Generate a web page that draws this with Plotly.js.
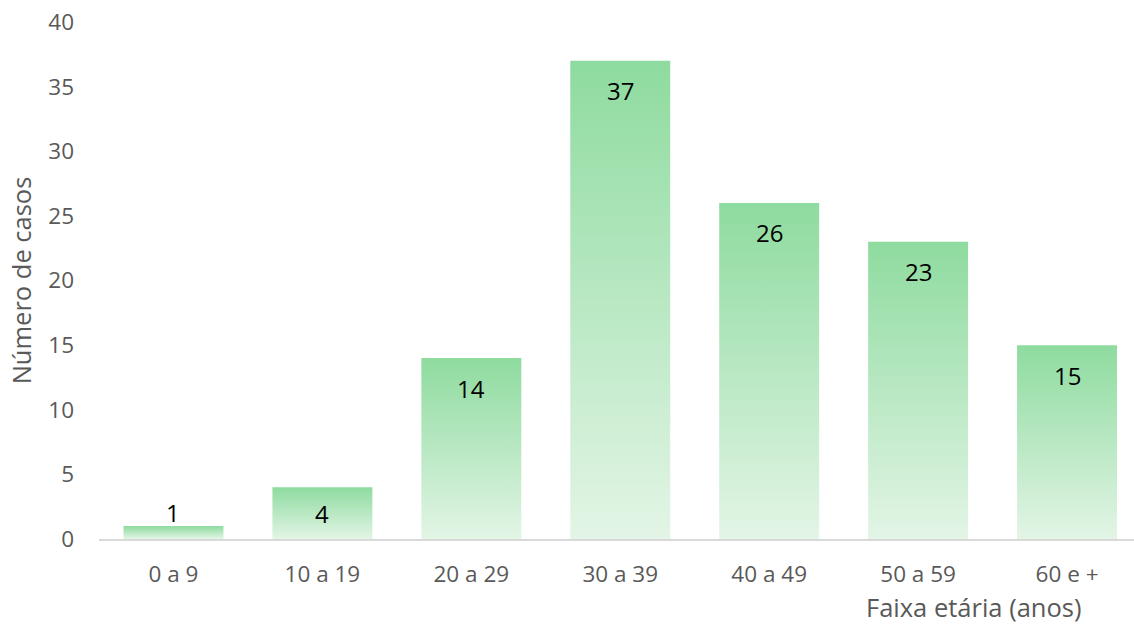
<!DOCTYPE html>
<html>
<head>
<meta charset="utf-8">
<script src="https://cdn.plot.ly/plotly-3.0.1.min.js"></script>
<style>
  html, body { margin: 0; padding: 0; background: #ffffff; }
  #chart { width: 1134px; height: 625px; }
</style>
</head>
<body>
<div id="chart"></div>
<script>
// ---- data ----
const categories = ["0 a 9", "10 a 19", "20 a 29", "30 a 39", "40 a 49", "50 a 59", "60 e +"];
const casos = [1, 4, 14, 37, 26, 23, 15];
const yTickValues = [0, 5, 10, 15, 20, 25, 30, 35, 40];
const yTitle = "Número de casos";
const xTitle = "Faixa etária (anos)";

// ---- style ----
const FONT = "'Open Sans', 'Noto Sans', sans-serif";
const GRAY = "#595959";
const W = 1134, H = 625;
const M = { l: 98.5, r: 0, t: 22, b: 86 };
const Y_MAX = 40;
const plotH = H - M.t - M.b;
const pxPerUnit = plotH / Y_MAX;
const catWidthPx = 149;
const xMax = (W - M.l - M.r) / catWidthPx - 0.5;

// data labels as annotations, placed like Excel "inside end"
const labelAnnotations = casos.map((v, i) => {
  const hPx = v * pxPerUnit;
  let y = v, yshift = 0;
  if (hPx < 30) { yshift = 14; }            // outside, above short bar
  else if (hPx < 70) { y = v / 2; }          // centred in short bar
  else { yshift = -30; }                     // near the top inside
  return {
    x: categories[i], y: y, xref: "x", yref: "y",
    text: String(v), showarrow: false,
    yanchor: "middle", xanchor: "center", yshift: yshift,
    font: { family: FONT, size: 24, color: "#000000" }
  };
});

const trace = {
  type: "bar",
  x: categories,
  y: casos,
  marker: { color: "#b3e6be", line: { width: 0 } },
  hoverinfo: "x+y",
  cliponaxis: false
};

const layout = {
  width: W, height: H,
  margin: M,
  paper_bgcolor: "#ffffff",
  plot_bgcolor: "#ffffff",
  showlegend: false,
  bargap: 1 - 100 / 149,
  font: { family: FONT, color: GRAY, size: 22 },
  xaxis: {
    type: "category",
    range: [-0.5, xMax],
    showgrid: false,
    zeroline: false,
    showline: true,
    linecolor: "#d9d9d9",
    linewidth: 1.5,
    ticks: "",
    ticklabelstandoff: 14,
    tickfont: { family: FONT, size: 22.5, color: GRAY },
    fixedrange: true
  },
  yaxis: {
    range: [0, Y_MAX],
    tickvals: yTickValues,
    showgrid: false,
    zeroline: false,
    showline: false,
    ticks: "",
    ticklabelstandoff: 24,
    tickfont: { family: FONT, size: 22.5, color: GRAY },
    title: { text: yTitle, font: { family: FONT, size: 25.5, color: GRAY }, standoff: 9 },
    automargin: false,
    fixedrange: true
  },
  annotations: labelAnnotations.concat([{
    xref: "paper", yref: "paper",
    x: (973 - M.l) / (W - M.l - M.r),
    y: -(607 - (H - M.b)) / plotH,
    xanchor: "center", yanchor: "middle",
    borderpad: 0,
    text: xTitle, showarrow: false,
    font: { family: FONT, size: 25.5, color: GRAY }
  }])
};

function applyGradient(gd) {
  const svg = gd.querySelector(".main-svg");
  if (!svg) return;
  const NS = "http://www.w3.org/2000/svg";
  let defs = svg.querySelector("defs");
  if (!defs) { defs = document.createElementNS(NS, "defs"); svg.insertBefore(defs, svg.firstChild); }
  if (!svg.querySelector("#barGrad")) {
    const lg = document.createElementNS(NS, "linearGradient");
    lg.setAttribute("id", "barGrad");
    lg.setAttribute("x1", "0"); lg.setAttribute("y1", "0");
    lg.setAttribute("x2", "0"); lg.setAttribute("y2", "1");
    [["0", "rgb(142,219,159)"], ["1", "rgb(227,245,230)"]].forEach(([o, c]) => {
      const s = document.createElementNS(NS, "stop");
      s.setAttribute("offset", o);
      s.setAttribute("stop-color", c);
      lg.appendChild(s);
    });
    defs.appendChild(lg);
  }
  gd.querySelectorAll(".barlayer .point path").forEach(p => {
    p.style.fill = "url(#barGrad)";
    p.style.fillOpacity = "1";
  });
}

const gd = document.getElementById("chart");
Plotly.newPlot(gd, [trace], layout, { displayModeBar: false, staticPlot: true })
  .then(() => applyGradient(gd));
gd.on && gd.on("plotly_afterplot", () => applyGradient(gd));
</script>
</body>
</html>
